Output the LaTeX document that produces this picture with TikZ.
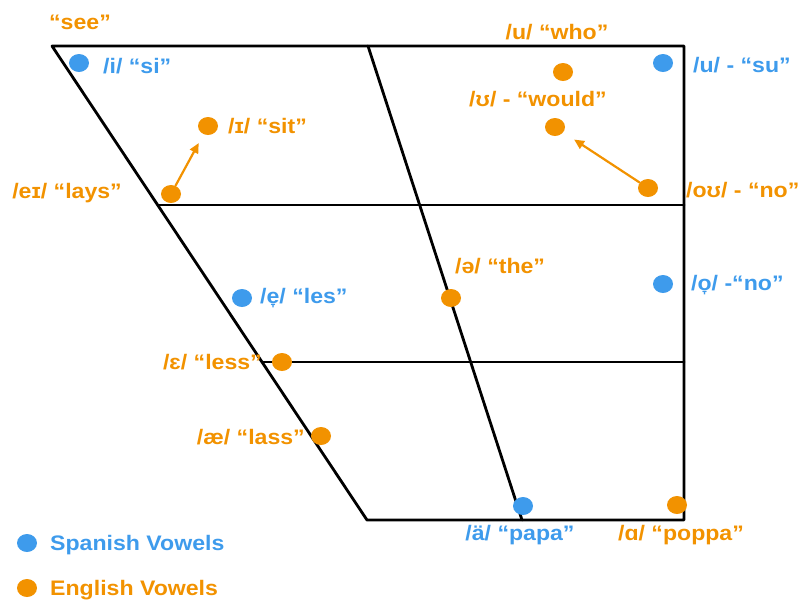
\documentclass[tikz,border=0pt]{standalone}
\usepackage{fontspec}
\setmainfont{Liberation Sans}[FakeStretch=1.1]
\usetikzlibrary{arrows.meta,positioning,shapes.geometric}

\definecolor{engorange}{RGB}{242,146,0}
\definecolor{spblue}{RGB}{62,155,236}

\tikzset{
	chart/.style={line width=2.8pt, black},
	vdot/.style={ellipse, inner sep=0pt, minimum width=20pt, minimum height=18pt},
	spdot/.style={vdot, fill=spblue},
	endot/.style={vdot, fill=engorange},
	vlabel/.style={inner sep=0pt, font=\bfseries\fontsize{21}{21}\selectfont},
	splabel/.style={vlabel, text=spblue},
	enlabel/.style={vlabel, text=engorange},
	glide/.style={->, engorange, line width=2.2pt}
}

\begin{document}
\begin{tikzpicture}[x=1pt, y=-1pt, line cap=round, line join=round, >={Triangle[length=10pt,width=9pt]}]
		\useasboundingbox (0,0) rectangle (806,603);
		% corners of the chart
		\coordinate (tl) at (52,46);
		\coordinate (tr) at (684,46);
		\coordinate (br) at (684,520);
		\coordinate (bl) at (367,520);
		\coordinate (tm) at (368,46);
		\coordinate (bm) at (522,520);
		% outline
		\draw [chart] (bl) -- (tl) -- (tr) -- (br) -- cycle;
		% central line
		\draw [chart] (tm) -- (bm);
		% height lines
		\draw [chart] (158,205) -- (684,205);
		\draw [chart] (262,362) -- (684,362);
		% spanish vowels
		\node [spdot] (si) at (79,63) {};
		\node [spdot] (su) at (663,63) {};
		\node [spdot] (les) at (242,298) {};
		\node [spdot] (noS) at (663,284) {};
		\node [spdot] (papa) at (523,506) {};
		% english vowels
		\node [endot] (sit) at (208,126) {};
		\node [endot] (lays) at (171,194) {};
		\node [endot] (who) at (563,72) {};
		\node [endot] (would) at (555,127) {};
		\node [endot] (noE) at (648,188) {};
		\node [endot] (the) at (451,298) {};
		\node [endot] (less) at (282,362) {};
		\node [endot] (lass) at (321,436) {};
		\node [endot] (poppa) at (677,505) {};
		% glides
		\draw [glide, shorten >=10pt] (lays) -- (sit);
		\draw [glide, shorten >=13pt] (noE) -- (would);
		% symbols
		\node [enlabel] (seeT) at (80,22) {“see”};
		\node [splabel, anchor=west] (siT) at (103,66) {/i/ “si”};
		\node [enlabel, anchor=west] (sitT) at (228,126) {/ɪ/ “sit”};
		\node [enlabel, anchor=east] (laysT) at (122,193) {/eɪ/ “lays”};
		\node [enlabel] (whoT) at (557,32) {/u/ “who”};
		\node [enlabel] (wouldT) at (538,99) {/ʊ/ - “would”};
		\node [enlabel, anchor=west] (noET) at (686,190) {/oʊ/ - “no”};
		\node [splabel, anchor=west] (suT) at (693,65) {/u/ - “su”};
		\node [enlabel, anchor=west] (theT) at (455,266) {/ə/ “the”};
		\node [splabel, anchor=west] (lesT) at (260,298) {/e̞/ “les”};
		\node [enlabel, anchor=east] (lessT) at (262,362) {/ɛ/ “less”};
		\node [enlabel, anchor=east] (lassT) at (305,437) {/æ/ “lass”};
		\node [splabel, anchor=west] (noST) at (691,285) {/o̞/ -“no”};
		\node [splabel] (papaT) at (520,535) {/ä/ “papa”};
		\node [enlabel] (poppaT) at (681,535) {/ɑ/ “poppa”};
		% legend
		\node [spdot] (keyS) at (27,543) {};
		\node [splabel, anchor=west] (keyST) at (50,545) {Spanish Vowels};
		\node [endot] (keyE) at (27,588) {};
		\node [enlabel, anchor=west] (keyET) at (50,590) {English Vowels};
	\end{tikzpicture}
\end{document}
